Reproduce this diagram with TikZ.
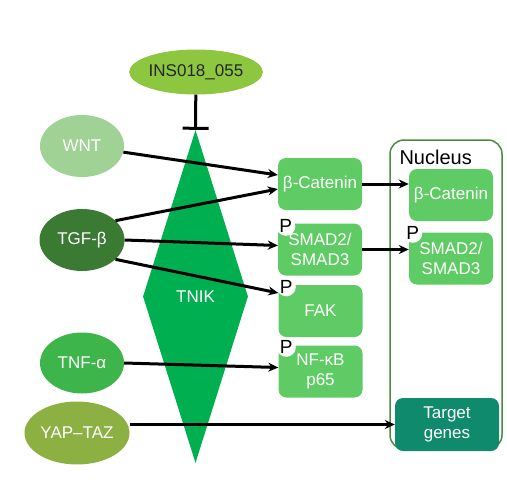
\documentclass[tikz,border=0pt]{standalone}
\usepackage{fontspec}
\setmainfont{Liberation Sans}
\usetikzlibrary{shapes.geometric,arrows.meta}

\definecolor{insgreen}{HTML}{8DC63F}
\definecolor{wntgreen}{HTML}{A0D296}
\definecolor{tgfgreen}{HTML}{3B7A33}
\definecolor{tnfgreen}{HTML}{3DB54A}
\definecolor{yapgreen}{HTML}{8DB043}
\definecolor{tnikgreen}{HTML}{00B050}
\definecolor{boxgreen}{HTML}{5FCB64}
\definecolor{genegreen}{HTML}{108A6C}
\definecolor{nucgreen}{HTML}{4C8A3F}

\begin{document}
\begin{tikzpicture}[x=1pt,y=-1pt,
  sig/.style={ellipse,fill=#1,text=white,inner sep=0pt,font=\fontsize{17}{20}\selectfont},
  prot/.style={rectangle,rounded corners=8pt,fill=boxgreen,text=white,minimum width=84pt,minimum height=52pt,inner sep=0pt,align=center,font=\fontsize{17}{20}\selectfont},
  phos/.style={circle,fill=white,inner sep=0pt,minimum size=19pt,font=\fontsize{19}{19}\selectfont},
  arr/.style={line width=3pt,-{Stealth[length=10pt,width=9pt]}},
]
\useasboundingbox (0,0) rectangle (507,491);

%signals
\node[sig=insgreen,text=black!85,minimum width=132pt,minimum height=45pt] (ins) at (196,72) {INS018\_055};
\node[sig=wntgreen,minimum width=84pt,minimum height=62pt] (wnt) at (82,146) {WNT};
\node[sig=tgfgreen,minimum width=85pt,minimum height=62pt] (tgf) at (82,240) {TGF-β};
\node[sig=tnfgreen,minimum width=84pt,minimum height=61pt] (tnf) at (82,363) {TNF-α};
\node[sig=yapgreen,minimum width=105pt,minimum height=63pt] (yap) at (77,433) {YAP–TAZ};

%kinase
\node[diamond,fill=tnikgreen,text=white,minimum width=105pt,minimum height=333pt,inner sep=0pt,font=\fontsize{17}{20}\selectfont] (tnik) at (195.5,296.5) {TNIK};

%cytoplasm
\node[prot] (bcat) at (320,184) {β-Catenin};
\node[prot] (smad) at (320,249.5) {SMAD2/\\SMAD3};
\node[prot] (fak) at (320.5,311) {FAK};
\node[prot] (nfkb) at (320.5,371.5) {NF-κB\\p65};

%nucleus
\node[draw=nucgreen,line width=1.5pt,rounded corners=14pt,minimum width=112pt,minimum height=309pt] (nucleus) at (446,294.5) {};
\node[anchor=west,font=\fontsize{20}{20}\selectfont] (nuclabel) at (396,157) {Nucleus};
\node[prot] (nbcat) at (451,195) {β-Catenin};
\node[prot] (nsmad) at (451,258.5) {SMAD2/\\SMAD3};
\node[prot,fill=genegreen,minimum width=104pt,minimum height=53pt] (genes) at (447,424.5) {Target\\genes};

%phosphorylation
\node[phos] (psmad) at ([xshift=8pt,yshift=-3pt]smad.north west) {P};
\node[phos] (pfak) at ([xshift=8pt,yshift=-2pt]fak.north west) {P};
\node[phos] (pnfkb) at ([xshift=8pt,yshift=-2pt]nfkb.north west) {P};
\node[phos] (pnsmad) at ([xshift=4pt,yshift=-1pt]nsmad.north west) {P};

%arrows
\draw[line width=3pt,-{Bar[width=26pt,line width=3pt]}] (ins) -- (tnik.north);
\draw[arr] (wnt) -- ([yshift=9pt]bcat.west);
\draw[arr] (tgf.30) -- ([yshift=-5pt]bcat.west);
\draw[arr] (tgf.east) -- ([yshift=4pt]smad.west);
\draw[arr] (tgf.-30) -- ([yshift=18pt]fak.west);
\draw[arr] (tnf.east) -- ([yshift=4pt]nfkb.west);
\draw[arr] (yap.east |- genes.west) -- (genes.west);
\draw[arr] (bcat.east) -- (bcat.east -| nbcat.west);
\draw[arr] (smad.east) -- (smad.east -| nsmad.west);

\end{tikzpicture}
\end{document}
